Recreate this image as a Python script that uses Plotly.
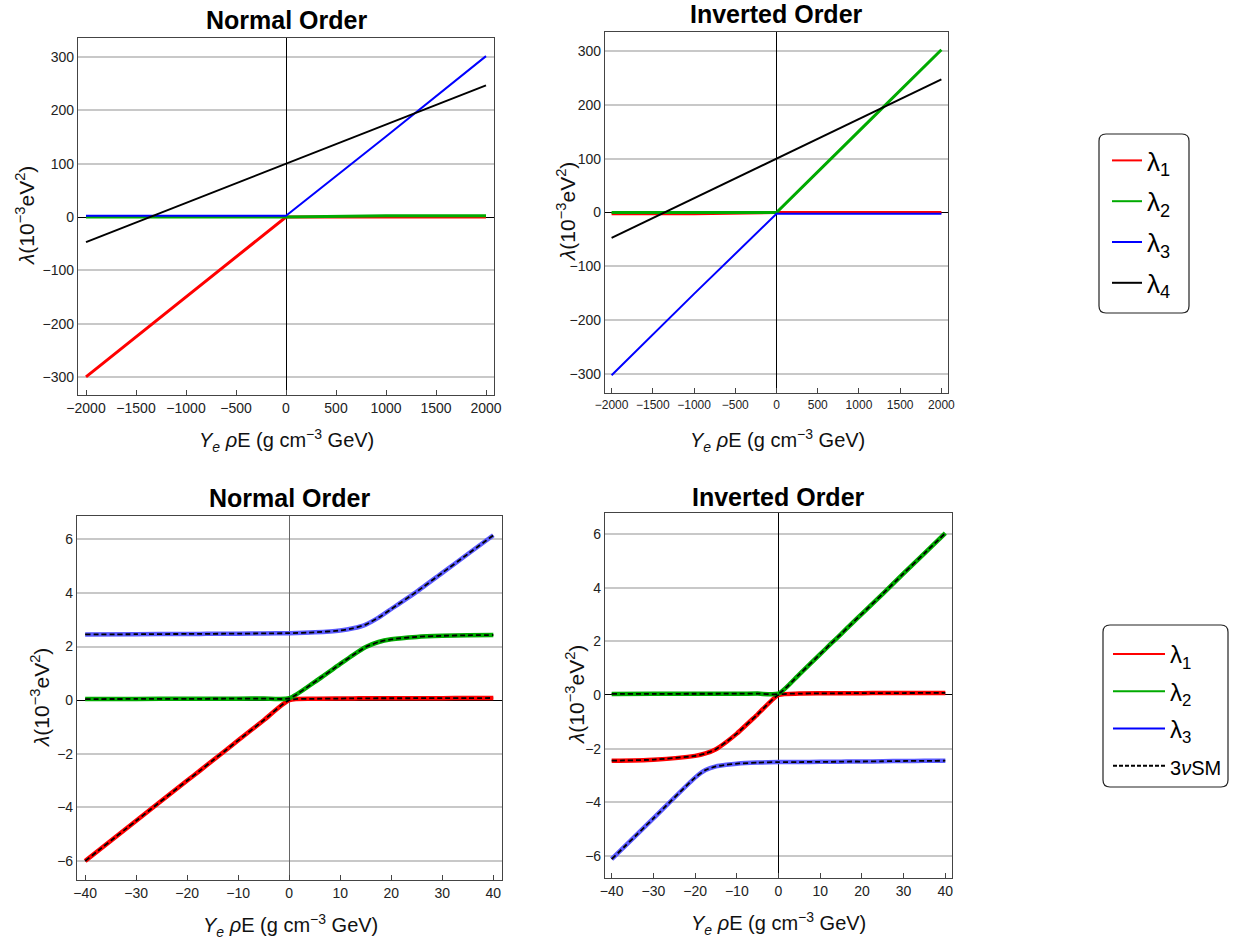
import plotly.graph_objects as go

W, H = 1247, 941

# ---------------- data ----------------
# top panels (4-flavour), x in g cm^-3 GeV
x_top = [-2000, -1000, 0, 1000, 2000]
no_l1_top = [-300, -150, 0.0, 0.07, 0.07]
no_l2_top = [0.07, 0.07, 0.07, 2.45, 2.45]
no_l3_top = [2.45, 2.48, 2.5, 151, 302]
no_l4_top = [-47, 26.5, 100, 173.5, 247]

io_l1_top = [-2.5, -2.5, 0.0, 0.07, 0.07]
io_l2_top = [0.04, 0.04, 0.05, 151, 302]
io_l3_top = [-302, -151, -2.5, -2.47, -2.45]
io_l4_top = [-47, 26.5, 100, 173.5, 247]

# bottom panels (zoom), x in g cm^-3 GeV
x_bot = [-40, -30, -20, -17.5, -15, -12.5, -10, -5, 0, 5, 10, 12.5, 15, 17.5, 20, 25, 30, 35, 40]
no_l1_bot = [-6.0, -4.5, -3.0, -2.63, -2.25, -1.88, -1.5, -0.75, 0.0, 0.05, 0.06, 0.065, 0.068, 0.07, 0.07, 0.072, 0.075, 0.077, 0.08]
no_l2_bot = [0.04, 0.045, 0.05, 0.05, 0.052, 0.053, 0.055, 0.06, 0.07, 0.68, 1.35, 1.68, 1.98, 2.17, 2.27, 2.36, 2.40, 2.42, 2.43]
no_l3_bot = [2.45, 2.46, 2.47, 2.47, 2.475, 2.478, 2.48, 2.49, 2.5, 2.53, 2.6, 2.68, 2.82, 3.08, 3.4, 4.05, 4.75, 5.45, 6.15]

io_l1_bot = [-2.45, -2.41, -2.27, -2.18, -2.02, -1.75, -1.44, -0.72, 0.0, 0.05, 0.06, 0.062, 0.064, 0.066, 0.068, 0.07, 0.072, 0.075, 0.077]
io_l2_bot = [0.04, 0.042, 0.045, 0.045, 0.046, 0.047, 0.048, 0.05, 0.05, 0.77, 1.52, 1.9, 2.27, 2.65, 3.02, 3.77, 4.53, 5.28, 6.03]
io_l3_bot = [-6.12, -4.6, -3.08, -2.8, -2.66, -2.6, -2.56, -2.52, -2.5, -2.5, -2.49, -2.49, -2.485, -2.48, -2.48, -2.47, -2.46, -2.455, -2.45]

# 3nuSM curves (coincide with the coloured ones at this resolution)
sm_no_bot = [no_l1_bot, no_l2_bot, no_l3_bot]
sm_io_bot = [io_l1_bot, io_l2_bot, io_l3_bot]

x_ticks_top = [-2000, -1500, -1000, -500, 0, 500, 1000, 1500, 2000]
y_ticks_top = [-300, -200, -100, 0, 100, 200, 300]
x_ticks_bot = [-40, -30, -20, -10, 0, 10, 20, 30, 40]
y_ticks_bot = [-6, -4, -2, 0, 2, 4, 6]

legend_top = ["λ<sub>1</sub>", "λ<sub>2</sub>", "λ<sub>3</sub>", "λ<sub>4</sub>"]
legend_bot = ["λ<sub>1</sub>", "λ<sub>2</sub>", "λ<sub>3</sub>",
              "<span style='font-size:20px'>3<i>ν</i>SM</span>"]

RED, GREEN, BLUE, BLACK = "#ff0000", "#00aa00", "#0000ff", "#000000"
LBLUE = "#5b5bff"
FONT = "Liberation Sans, Arial, sans-serif"
NFONT = "Liberation Sans Narrow, Liberation Sans, Arial, sans-serif"


def px(x):
    return x / W


def py(y):
    return 1 - y / H


fig = go.Figure()

# ---- top-left
for yv, c, w in [(no_l1_top, RED, 3), (no_l2_top, GREEN, 3), (no_l3_top, BLUE, 2), (no_l4_top, BLACK, 2)]:
    fig.add_trace(go.Scatter(x=x_top, y=yv, mode="lines", line=dict(color=c, width=w),
                             xaxis="x", yaxis="y", showlegend=False))
# ---- top-right
for yv, c, w in [(io_l1_top, RED, 3), (io_l2_top, GREEN, 3), (io_l3_top, BLUE, 2), (io_l4_top, BLACK, 2)]:
    fig.add_trace(go.Scatter(x=x_top, y=yv, mode="lines", line=dict(color=c, width=w),
                             xaxis="x2", yaxis="y2", showlegend=False))
# ---- bottom-left
for yv, c in [(no_l1_bot, RED), (no_l2_bot, GREEN), (no_l3_bot, LBLUE)]:
    fig.add_trace(go.Scatter(x=x_bot, y=yv, mode="lines", line=dict(color=c, width=4.5, shape="spline", smoothing=0.6),
                             xaxis="x3", yaxis="y3", showlegend=False))
for yv in sm_no_bot:
    fig.add_trace(go.Scatter(x=x_bot, y=yv, mode="lines",
                             line=dict(color=BLACK, width=1.8, dash="5px,3px", shape="spline", smoothing=0.6),
                             xaxis="x3", yaxis="y3", showlegend=False))
# ---- bottom-right
for yv, c in [(io_l1_bot, RED), (io_l2_bot, GREEN), (io_l3_bot, LBLUE)]:
    fig.add_trace(go.Scatter(x=x_bot, y=yv, mode="lines", line=dict(color=c, width=4.5, shape="spline", smoothing=0.6),
                             xaxis="x4", yaxis="y4", showlegend=False))
for yv in sm_io_bot:
    fig.add_trace(go.Scatter(x=x_bot, y=yv, mode="lines",
                             line=dict(color=BLACK, width=1.8, dash="5px,3px", shape="spline", smoothing=0.6),
                             xaxis="x4", yaxis="y4", showlegend=False))

# ---- legend entries
for name, c in zip(legend_top, [RED, GREEN, BLUE, BLACK]):
    fig.add_trace(go.Scatter(x=[None], y=[None], mode="lines", name=name, line=dict(color=c, width=2),
                             xaxis="x", yaxis="y", legend="legend", legendgroup="t" + name))
for i, (name, c, d) in enumerate(zip(legend_bot, [RED, GREEN, BLUE, BLACK], ["solid", "solid", "solid", "4px,2px"])):
    fig.add_trace(go.Scatter(x=[None], y=[None], mode="lines", name=name, line=dict(color=c, width=2, dash=d),
                             xaxis="x4", yaxis="y4", legend="legend2", legendgroup="b%d" % i))


def xaxis(dom, rng, ticks, zcol, anchor, fam, fs=14):
    return dict(domain=dom, range=rng, tickvals=ticks, anchor=anchor, showgrid=False, automargin=False,
                zeroline=True, zerolinecolor=zcol, zerolinewidth=1, tickangle=0,
                showline=True, mirror=True, linecolor="#444", linewidth=1.2,
                ticks="inside", ticklen=5, tickcolor="#444", tickwidth=1,
                tickfont=dict(family=fam, size=fs, color="#222"), fixedrange=True)


def yaxis(dom, rng, ticks, anchor, fam):
    return dict(domain=dom, range=rng, tickvals=ticks, anchor=anchor, showgrid=True, automargin=False,
                gridcolor="#c8c8c8", gridwidth=2, zeroline=True, zerolinecolor="#000", zerolinewidth=1,
                showline=True, mirror=True, linecolor="#444", linewidth=1.2, ticks="",
                tickfont=dict(family=fam, size=14, color="#222"), fixedrange=True)


ytitle = "<i>λ</i>(10<sup>−3</sup>eV<sup>2</sup>)"
xtitle = "<i>Y<sub>e</sub> ρ</i>E (g cm<sup>−3</sup> GeV)"

annotations = []
for (cx, cy, txt, fam) in [(286, 20, "Normal Order", FONT), (776, 14, "Inverted Order", NFONT),
                           (289, 498, "Normal Order", FONT), (778, 497, "Inverted Order", NFONT)]:
    annotations.append(dict(x=px(cx), y=py(cy), xref="paper", yref="paper", text="<b>" + txt + "</b>",
                            showarrow=False, xanchor="center", yanchor="middle",
                            font=dict(family=fam, size=25, color="#000")))
for (cx, cy, fam) in [(286, 440, FONT), (777, 440, NFONT), (290, 925, FONT), (779, 923, NFONT)]:
    annotations.append(dict(x=px(cx), y=py(cy), xref="paper", yref="paper", text=xtitle,
                            showarrow=False, xanchor="center", yanchor="middle",
                            font=dict(family=fam, size=20, color="#111")))
for (cx, cy, fam) in [(25, 216, FONT), (566, 212, NFONT), (40, 698, FONT), (575, 695, NFONT)]:
    annotations.append(dict(x=px(cx), y=py(cy), xref="paper", yref="paper", text=ytitle, textangle=-90,
                            showarrow=False, xanchor="center", yanchor="middle",
                            font=dict(family=fam, size=21, color="#111")))


def rounded(x0, y0, x1, y1, r=7):
    X0, X1 = px(x0), px(x1)
    Y0, Y1 = py(y0), py(y1)
    rx, ry = r / W, r / H
    return (f"M {X0+rx},{Y0} L {X1-rx},{Y0} Q {X1},{Y0} {X1},{Y0-ry} L {X1},{Y1+ry} "
            f"Q {X1},{Y1} {X1-rx},{Y1} L {X0+rx},{Y1} Q {X0},{Y1} {X0},{Y1+ry} L {X0},{Y0-ry} "
            f"Q {X0},{Y0} {X0+rx},{Y0} Z")


shapes = [
    dict(type="path", xref="paper", yref="paper", path=rounded(1099, 134, 1189, 313),
         line=dict(color="#222", width=1.2), fillcolor="rgba(0,0,0,0)"),
    dict(type="path", xref="paper", yref="paper", path=rounded(1103, 625, 1228, 787),
         line=dict(color="#222", width=1.2), fillcolor="rgba(0,0,0,0)"),
]

fig.update_layout(
    template="none",
    width=W, height=H, autosize=False,
    margin=dict(l=0, r=0, t=0, b=0, pad=0),
    paper_bgcolor="white", plot_bgcolor="white",
    font=dict(family=FONT, color="#111"),
    xaxis=xaxis([px(78), px(494)], [-2080, 2080], x_ticks_top, "#000", "y", FONT),
    yaxis=yaxis([py(395), py(38)], [-334, 336], y_ticks_top, "x", FONT),
    xaxis2=xaxis([px(605), px(948)], [-2080, 2080], x_ticks_top, "#000", "y2", NFONT, fs=12),
    yaxis2=yaxis([py(393), py(32)], [-335, 335], y_ticks_top, "x2", NFONT),
    xaxis3=xaxis([px(77), px(502)], [-41.6, 41.7], x_ticks_bot, "#666", "y3", FONT),
    yaxis3=yaxis([py(880), py(516)], [-6.71, 6.87], y_ticks_bot, "x3", FONT),
    xaxis4=xaxis([px(605), px(952)], [-41.6, 41.6], x_ticks_bot, "#000", "y4", NFONT),
    yaxis4=yaxis([py(878), py(513)], [-6.82, 6.78], y_ticks_bot, "x4", NFONT),
    legend=dict(x=px(1107), y=py(137), xanchor="left", yanchor="top", bgcolor="rgba(0,0,0,0)",
                borderwidth=0, font=dict(family=FONT, size=26, color="#000"), tracegroupgap=4, itemwidth=30),
    legend2=dict(x=px(1108), y=py(632), xanchor="left", yanchor="top", bgcolor="rgba(0,0,0,0)",
                 borderwidth=0, font=dict(family=FONT, size=24, color="#000"), tracegroupgap=3, itemwidth=52),
    annotations=annotations,
    shapes=shapes,
)

fig.write_html("out.html")
